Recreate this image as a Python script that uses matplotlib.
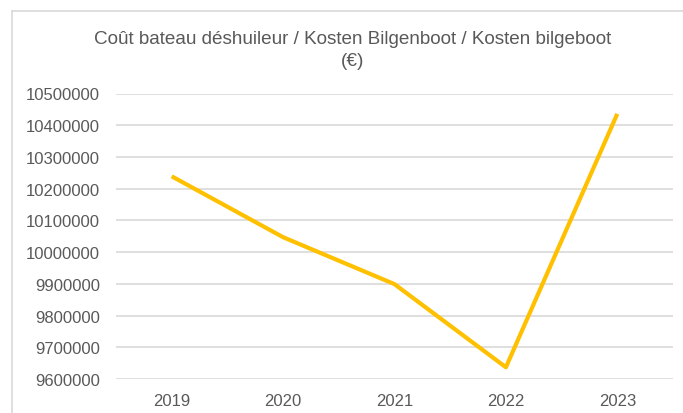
import numpy as np
import matplotlib.pyplot as plt
from matplotlib.lines import Line2D

plt.rcParams['font.family'] = ['Liberation Sans', 'DejaVu Sans']

years = ["2019", "2020", "2021", "2022", "2023"]
costs = [10239000, 10047000, 9899000, 9637000, 10436000]
y_ticks = [9600000, 9700000, 9800000, 9900000, 10000000,
           10100000, 10200000, 10300000, 10400000, 10500000]

W, H = 683, 414
fig = plt.figure(figsize=(W / 100, H / 100), dpi=100)
fig.patch.set_facecolor("white")

# plot area in pixel coords
left, right, top, bottom = 116, 673, 94.5, 380
ax = fig.add_axes([left / W, 1 - bottom / H, (right - left) / W, (bottom - top) / H])

x = np.arange(len(years))
ax.plot(x, costs, color="#FFC000", linewidth=3, solid_capstyle="butt", solid_joinstyle="round", zorder=3)

ax.set_xlim(-0.5, len(years) - 0.5)
ax.set_ylim(y_ticks[0], y_ticks[-1])
ax.set_yticks(y_ticks)
ax.set_yticklabels([str(v) for v in y_ticks])
ax.set_xticks(x)
ax.set_xticklabels(years)
ax.tick_params(axis="both", length=0, labelsize=12, colors="#595959")
ax.tick_params(axis="y", pad=11.5)
ax.tick_params(axis="x", pad=10)
ax.grid(axis="y", color="#D9D9D9", linewidth=1.2)
ax.set_axisbelow(True)
for s in ax.spines.values():
    s.set_visible(False)
ax.set_facecolor("none")

# title
fig.text(353 / W, 1 - 39 / H, "Coût bateau déshuileur / Kosten Bilgenboot / Kosten bilgeboot",
         ha="center", va="center", fontsize=13.6, color="#595959")
fig.text(353 / W, 1 - 62 / H, "(€)", ha="center", va="center", fontsize=13.6, color="#595959")

# chart border (only left and top visible in the crop)
fig.add_artist(Line2D([12 / W, 12 / W], [0, 1 - 12 / H], transform=fig.transFigure,
                      color="#D9D9D9", linewidth=1.2))
fig.add_artist(Line2D([12 / W, 1], [1 - 12 / H, 1 - 12 / H], transform=fig.transFigure,
                      color="#D9D9D9", linewidth=1.2))

fig.savefig("out.png", dpi=100)
